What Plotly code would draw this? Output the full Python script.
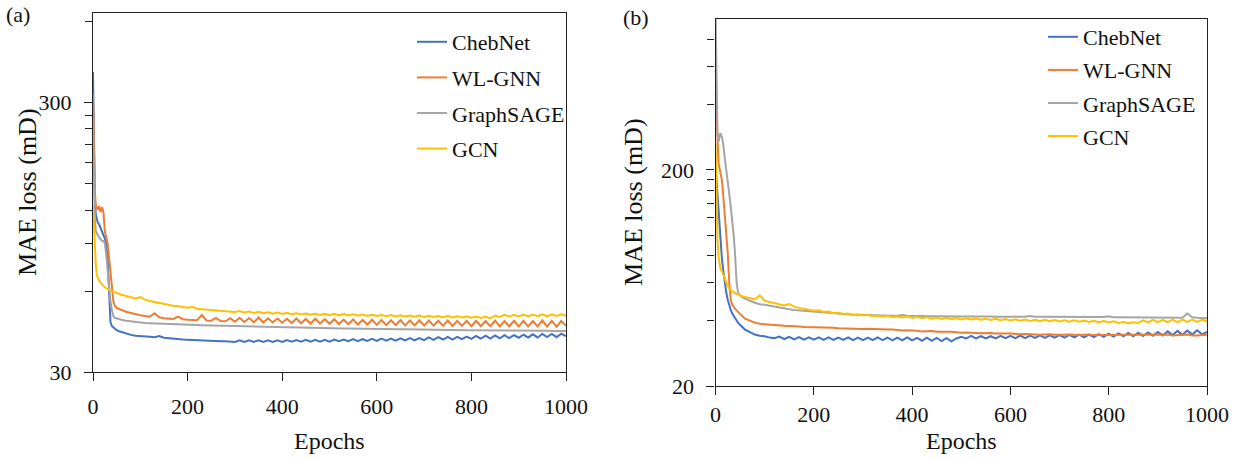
import plotly.graph_objects as go

# Epoch grid: dense over the first 90 epochs, then every 10 epochs
epochs = [0, 2, 4, 6, 8, 10, 13, 16, 19, 22, 25, 28, 31, 34, 37, 40, 43, 46, 50, 55, 60, 70, 80, 90] \
    + list(range(100, 1001, 10))

# ---------------- panel (a) ----------------
chebnet_a = [390, 200, 130, 115, 110, 108, 106, 103, 100, 97, 94, 90, 80, 60, 46, 44.5, 44, 43.5, 43, 42.6,
             42.3, 41.8, 41.3, 41.0,
             40.8, 40.7, 40.6, 40.5, 40.9, 40.3, 40.1, 40.0, 39.8, 39.7,
             39.6, 39.5, 39.4, 39.4, 39.3, 39.2, 39.2, 39.1, 39.1, 39.0,
             38.9, 39.4, 38.9, 39.4, 38.9, 39.4, 38.9, 39.4, 38.9, 39.4,
             38.9, 39.5, 39.0, 39.5, 39.0, 39.6, 39.0, 39.6, 39.0, 39.6,
             39.0, 39.7, 39.1, 39.7, 39.1, 39.8, 39.1, 39.8, 39.2, 39.9,
             39.2, 40.0, 39.3, 40.0, 39.3, 40.1, 39.4, 40.2, 39.4, 40.2,
             39.5, 40.4, 39.6, 40.5, 39.7, 40.6, 39.7, 40.6, 39.8, 40.7,
             39.9, 40.9, 40.0, 41.0, 40.0, 41.1, 40.1, 41.2, 40.2, 41.2,
             40.3, 41.4, 40.4, 41.5, 40.4, 41.6, 40.5, 41.6, 40.5, 41.7,
             40.9]

wlgnn_a = [325, 200, 140, 125, 122, 120, 124, 118, 123, 118, 100, 95, 90, 80, 70, 60, 55, 53, 52, 51.5,
           51.0, 50.3, 49.8, 49.2,
           48.8, 48.5, 48.2, 49.7, 48.0, 47.6, 47.5, 47.3, 48.3, 47.2,
           47.0, 46.9, 46.8, 48.9, 46.7, 46.6, 47.7, 46.5, 46.4, 47.6,
           46.2, 47.8, 46.1, 47.7, 46.0, 47.9, 45.9, 47.6, 45.9, 47.5,
           45.8, 47.4, 45.7, 47.5, 45.6, 47.3, 45.5, 47.4, 45.5, 47.2,
           45.4, 47.2, 45.3, 47.0, 45.2, 47.1, 45.1, 46.9, 45.1, 47.0,
           45.0, 46.9, 44.9, 46.8, 44.9, 46.9, 44.8, 46.7, 44.8, 46.8,
           44.7, 46.7, 44.7, 46.6, 44.6, 46.7, 44.6, 46.5, 44.6, 46.6,
           44.5, 46.6, 44.5, 46.5, 44.5, 46.7, 44.4, 46.5, 44.4, 46.6,
           44.4, 46.6, 44.4, 46.5, 44.4, 46.7, 44.3, 46.6, 44.3, 46.5,
           44.6]

graphsage_a = [265, 150, 110, 100, 98, 97, 95, 93, 92, 92, 90, 82, 70, 62, 55, 51, 48.5, 47.8, 47.5, 47.2,
               47.0, 46.6, 46.3, 46.0,
               45.8, 45.7, 45.6, 45.5, 45.4, 45.35, 45.3, 45.25, 45.2, 45.1,
               45.0, 45.0, 44.9, 44.85, 44.8, 44.75, 44.7, 44.65, 44.6, 44.55,
               44.5, 44.45, 44.4, 44.35, 44.3, 44.25, 44.2, 44.2, 44.15, 44.1,
               44.1, 44.05, 44.0, 44.0, 43.95, 43.9, 43.9, 43.85, 43.8, 43.8,
               43.75, 43.7, 43.7, 43.65, 43.65, 43.6, 43.6, 43.55, 43.55, 43.5,
               43.5, 43.45, 43.45, 43.4, 43.4, 43.35, 43.35, 43.3, 43.3, 43.25,
               43.25, 43.2, 43.2, 43.15, 43.15, 43.1, 43.1, 43.05, 43.05, 43.0,
               43.0, 43.0, 42.95, 42.95, 42.9, 42.9, 42.9, 42.85, 42.85, 42.85,
               42.8, 42.8, 42.8, 42.8, 42.75, 42.75, 42.75, 42.7, 42.7, 42.7,
               42.7]

gcn_a = [125, 100, 85, 75, 69, 67, 65.5, 64.5, 63.5, 62.5, 62, 61.5, 61, 60.6, 60.3, 60, 59.7, 59.4, 59, 58.6,
         58.2, 57.6, 57.0, 56.4,
         57.0, 55.8, 55.2, 54.7, 54.2, 53.8, 53.4, 53.0, 52.7, 52.4,
         52.1, 52.5, 51.6, 51.4, 51.2, 51.0, 50.8, 50.6, 50.5, 50.3,
         50.2, 50.6, 50.0, 50.4, 49.8, 50.3, 49.7, 50.1, 49.5, 50.0,
         49.4, 49.9, 49.3, 49.7, 49.2, 49.6, 49.1, 49.5, 49.0, 49.4,
         48.9, 49.4, 48.8, 49.3, 48.7, 49.2, 48.6, 49.1, 48.5, 49.0,
         48.5, 48.9, 48.4, 48.9, 48.3, 48.8, 48.3, 48.7, 48.2, 48.7,
         48.1, 48.6, 48.1, 48.5, 48.0, 48.5, 47.9, 48.4, 47.9, 48.3,
         47.8, 48.3, 47.7, 48.2, 47.6, 48.7, 48.1, 49.0, 48.3, 49.0,
         48.3, 49.1, 48.4, 49.1, 48.4, 49.2, 48.4, 49.2, 48.5, 49.2,
         48.6]

# ---------------- panel (b) ----------------
chebnet_b = [210, 180, 155, 125, 105, 92, 78, 68, 60, 54, 50, 47, 45, 43.3, 42, 41, 40.2, 39.2, 38.3, 37.3,
             36.5, 35.5, 34.6, 34.2,
             34.0, 33.5, 33.3, 33.9, 33.0, 33.8, 32.9, 33.7, 32.8, 33.6,
             32.8, 33.6, 32.7, 33.6, 32.7, 33.5, 32.7, 33.6, 32.6, 33.5,
             32.6, 33.5, 32.6, 33.6, 32.6, 33.5, 32.5, 33.5, 32.5, 33.6,
             32.5, 33.4, 32.4, 33.5, 32.4, 33.4, 32.3, 33.3, 32.2, 33.2,
             33.8, 33.2, 34.1, 33.2, 34.0, 33.2, 34.0, 33.2, 34.1, 33.3,
             34.1, 33.3, 34.2, 33.3, 34.2, 33.4, 34.3, 33.4, 34.3, 33.5,
             34.4, 33.5, 34.5, 33.6, 34.6, 33.6, 34.6, 33.7, 34.8, 33.8,
             34.9, 33.9, 35.0, 34.0, 35.2, 34.0, 35.3, 34.1, 35.4, 34.2,
             35.6, 34.3, 35.8, 34.4, 36.0, 34.5, 36.1, 34.6, 36.2, 34.7,
             35.6]

wlgnn_b = [510, 350, 250, 215, 205, 195, 180, 150, 126, 100, 82, 60, 50, 47.5, 46.3, 45.5, 44.8, 44.0, 43.0,
           42.0, 41.0, 40.0, 39.3, 38.8,
           38.6, 38.5, 38.3, 38.2, 38.0, 37.95, 37.9, 37.7, 37.5, 37.5,
           37.4, 37.3, 37.2, 37.2, 37.2, 37.0, 36.9, 37.0, 37.0, 36.8,
           36.7, 36.8, 36.7, 36.5, 36.4, 36.5, 36.5, 36.3, 36.1, 36.2,
           36.2, 36.0, 35.8, 35.9, 35.9, 35.7, 35.6, 35.7, 35.7, 35.5,
           35.3, 35.4, 35.4, 35.2, 35.1, 35.2, 35.2, 35.0, 34.9, 35.0,
           35.0, 34.8, 34.7, 34.8, 34.8, 34.6, 34.5, 34.6, 34.7, 34.5,
           34.4, 34.5, 34.6, 34.4, 34.4, 34.5, 34.6, 34.4, 34.4, 34.5,
           34.6, 34.4, 34.4, 34.5, 34.6, 34.4, 34.4, 34.5, 34.6, 34.4,
           34.4, 34.5, 34.6, 34.3, 34.3, 34.5, 34.6, 34.3, 34.3, 34.5,
           34.5]

graphsage_b = [1100, 500, 300, 270, 290, 296, 285, 260, 225, 194, 175, 155, 135, 118, 100, 80, 60, 54, 52.5,
               51.5, 50.8, 49.6, 48.6, 47.8,
               47.5, 47.0, 46.6, 46.1, 45.6, 45.3, 45.0, 44.8, 44.5, 44.3,
               44.1, 43.9, 43.7, 43.5, 43.4, 43.2, 43.1, 43.0, 42.8, 42.7,
               42.6, 42.6, 42.5, 42.5, 42.4, 42.4, 42.3, 42.3, 42.6, 42.3,
               42.2, 42.2, 42.1, 42.1, 42.1, 42.1, 42.0, 42.0, 42.0, 42.0,
               41.9, 41.9, 41.9, 41.9, 41.9, 42.2, 41.9, 41.8, 41.8, 41.8,
               41.8, 41.8, 41.8, 41.8, 42.2, 41.8, 41.8, 41.8, 41.8, 41.7,
               41.7, 41.7, 41.7, 41.7, 41.7, 41.7, 41.7, 41.7, 41.7, 41.7,
               42.1, 41.6, 41.6, 41.6, 41.6, 41.6, 41.5, 41.5, 41.5, 41.5,
               41.5, 41.4, 41.4, 41.4, 41.4, 41.4, 43.3, 41.6, 41.4, 41.3,
               41.2]

gcn_b = [265, 120, 95, 80, 72, 70, 68, 66, 63, 60, 58, 56.5, 55.5, 54.8, 54.3, 53.8, 53.4, 53.0, 52.6, 52.1,
         51.7, 51.0, 50.4, 52.6,
         49.6, 49.0, 48.4, 47.8, 47.2, 47.9, 46.6, 46.0, 45.5, 45.0,
         44.6, 44.8, 44.0, 44.2, 43.5, 43.7, 43.1, 43.3, 42.7, 42.9,
         42.4, 42.7, 42.1, 42.4, 41.9, 42.2, 41.7, 42.0, 41.5, 41.9,
         41.3, 41.8, 41.2, 41.6, 41.0, 41.5, 40.9, 41.4, 40.8, 41.3,
         40.7, 41.2, 40.6, 41.1, 40.5, 41.0, 40.4, 40.9, 40.3, 40.8,
         40.2, 40.7, 40.1, 40.6, 40.0, 40.5, 39.9, 40.5, 39.9, 40.4,
         39.8, 40.3, 39.7, 40.3, 39.7, 40.2, 39.6, 40.1, 39.5, 40.0,
         39.4, 39.9, 39.2, 39.6, 39.1, 39.5, 39.2, 40.3, 39.4, 40.5,
         39.5, 40.5, 39.5, 40.6, 39.5, 40.6, 39.6, 40.6, 39.6, 40.6,
         39.8]

names = ["ChebNet", "WL-GNN", "GraphSAGE", "GCN"]
colors = ["#4472C4", "#ED7D31", "#A5A5A5", "#FFC000"]
series_a = [chebnet_a, wlgnn_a, graphsage_a, gcn_a]
series_b = [chebnet_b, wlgnn_b, graphsage_b, gcn_b]

x_ticks = [0, 200, 400, 600, 800, 1000]
y_ticks_a = [30, 300]
y_minor_a = [60, 90, 120, 150, 180, 210, 240, 270, 600]
y_ticks_b = [20, 200]
y_minor_b = [40, 60, 80, 100, 120, 140, 160, 180, 400, 600, 800]

FONT = "Liberation Serif"
W, H = 1239, 461

fig = go.Figure()
for name, color, ys in zip(names, colors, series_a):
    fig.add_trace(go.Scatter(x=epochs[:len(ys)], y=ys, mode="lines", name=name,
                             line=dict(color=color, width=2),
                             xaxis="x", yaxis="y", legend="legend",
                             legendgroup="a" + name))
for name, color, ys in zip(names, colors, series_b):
    fig.add_trace(go.Scatter(x=epochs[:len(ys)], y=ys, mode="lines", name=name,
                             line=dict(color=color, width=2),
                             xaxis="x2", yaxis="y2", legend="legend2",
                             legendgroup="b" + name))

axis_common = dict(showgrid=False, zeroline=False, showline=True, linecolor="#222", linewidth=1.3,
                   mirror=True, ticks="outside", tickcolor="#222", ticklen=8, tickwidth=1.3,
                   automargin=False,
                   tickfont=dict(family=FONT, size=22, color="#111"))


def px_x(p):
    return p / W


def px_y(p):
    return 1 - p / H


fig.update_layout(
    width=W, height=H, autosize=False,
    margin=dict(l=0, r=0, t=0, b=0),
    paper_bgcolor="white", plot_bgcolor="white",
    font=dict(family=FONT, size=22, color="#111"),
    xaxis=dict(domain=[px_x(93), px_x(566)], range=[0, 1000], tickvals=x_ticks,
               anchor="y", ticklabelstandoff=6, **axis_common),
    yaxis=dict(domain=[px_y(372.3), px_y(12.7)], type="log", range=[1.4771, 2.8111],
               tickvals=y_ticks_a, ticktext=[str(v) for v in y_ticks_a], anchor="x",
               ticklabelstandoff=8,
               minor=dict(tickvals=y_minor_a, ticks="outside", ticklen=7, tickcolor="#222", tickwidth=1.2),
               **axis_common),
    xaxis2=dict(domain=[px_x(715.5), px_x(1207)], range=[0, 1000], tickvals=x_ticks,
                anchor="y2", ticklabelstandoff=0, **axis_common),
    yaxis2=dict(domain=[px_y(386), px_y(19)], type="log", range=[1.30103, 3.0],
                tickvals=y_ticks_b, ticktext=[str(v) for v in y_ticks_b], anchor="x2",
                ticklabelstandoff=8,
                minor=dict(tickvals=y_minor_b, ticks="outside", ticklen=7, tickcolor="#222", tickwidth=1.2),
                **axis_common),
    legend=dict(x=px_x(412), y=px_y(21), xanchor="left", yanchor="top", bgcolor="rgba(0,0,0,0)",
                font=dict(family=FONT, size=22, color="#111"), tracegroupgap=4, itemwidth=30),
    legend2=dict(x=px_x(1043), y=px_y(16), xanchor="left", yanchor="top", bgcolor="rgba(0,0,0,0)",
                 font=dict(family=FONT, size=22, color="#111"), tracegroupgap=1.5, itemwidth=30),
    showlegend=True,
)


def label(text, x, y, size, angle=0):
    return dict(text=text, x=px_x(x), y=px_y(y), xref="paper", yref="paper", showarrow=False,
                xanchor="center", yanchor="middle", textangle=angle,
                font=dict(family=FONT, size=size, color="#111"))


fig.update_layout(annotations=[
    label("(a)", 18, 15, 22),
    label("(b)", 636, 18, 22),
    label("MAE loss (mD)", 28, 192, 26, -90),
    label("MAE loss (mD)", 633, 202, 26, -90),
    label("Epochs", 329.5, 441, 24),
    label("Epochs", 961, 441, 24),
])

fig.write_html("out.html")
